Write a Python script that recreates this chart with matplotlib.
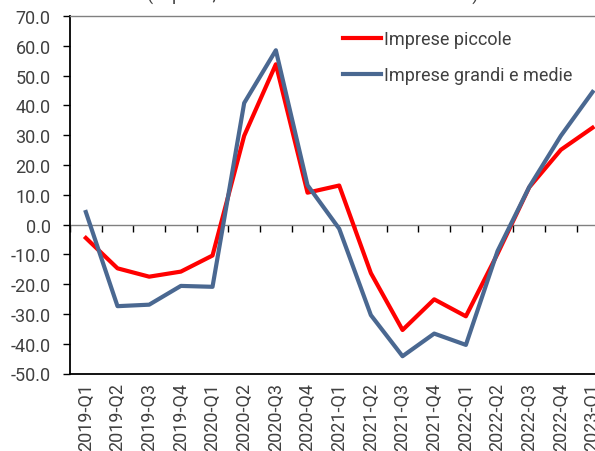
import numpy as np
import matplotlib.pyplot as plt

quarters = ["2019-Q1", "2019-Q2", "2019-Q3", "2019-Q4",
            "2020-Q1", "2020-Q2", "2020-Q3", "2020-Q4",
            "2021-Q1", "2021-Q2", "2021-Q3", "2021-Q4",
            "2022-Q1", "2022-Q2", "2022-Q3", "2022-Q4",
            "2023-Q1"]
piccole = [-4.5, -14.7, -17.5, -15.8, -10.4, 29.8, 53.8, 10.7,
           13.1, -16.3, -35.4, -25.1, -30.8, -9.8, 12.5, 25.1, 32.5]
grandi = [4.2, -27.4, -26.9, -20.6, -20.9, 40.8, 58.5, 13.2,
          -1.4, -30.4, -44.2, -36.6, -40.4, -8.9, 12.6, 29.8, 44.5]

plt.rcParams["font.family"] = ["Roboto", "DejaVu Sans"]
txt_color = "#404040"

fig = plt.figure(figsize=(5.95, 4.52), dpi=100)
ax = fig.add_axes([70 / 595, 1 - 374.5 / 452, 538.4 / 595, 357.5 / 452])

x = np.arange(len(quarters))
ax.plot(x, piccole, color="#ff0000", lw=3, label="Imprese piccole")
ax.plot(x, grandi, color="#4a6891", lw=3, label="Imprese grandi e medie")

ax.set_xlim(-0.5, len(quarters) - 0.5)
ax.set_ylim(-50, 70)
ax.set_yticks(np.arange(-50, 71, 10))
ax.yaxis.set_major_formatter(plt.FuncFormatter(lambda v, p: f"{v:.1f}"))
ax.tick_params(axis="y", length=5, width=1, color="black", pad=9,
               labelsize=13, labelcolor=txt_color)

ax.set_xticks(x)
ax.set_xticklabels(quarters, rotation=90, fontsize=13, color=txt_color)
ax.tick_params(axis="x", length=0, pad=6)

# zero line with ticks between categories
sec = ax.secondary_xaxis(50 / 120)
sec.set_xticks(np.arange(len(quarters) + 1) - 0.5)
sec.set_xticklabels([])
sec.tick_params(length=5, width=1, color="black", direction="out")
sec.spines["bottom"].set_color("#808080")
sec.spines["bottom"].set_linewidth(1)

ax.spines["left"].set_linewidth(1.3)
ax.spines["bottom"].set_linewidth(1.3)
ax.spines["top"].set_color("#808080")
ax.spines["top"].set_linewidth(1)
ax.spines["right"].set_visible(False)

ax.legend(loc="upper left", bbox_to_anchor=(343 / 595, 1 - 31 / 452),
          bbox_transform=fig.transFigure, frameon=False, fontsize=13,
          handlelength=2.1, handletextpad=0.15, labelspacing=1.0,
          borderaxespad=0, borderpad=0, labelcolor=txt_color)

fig.text(313 / 595, 1 - 1 / 452, "(in punti, saldo tra aumenti e diminuzioni)",
         ha="center", va="baseline", fontsize=13, color=txt_color)

plt.savefig("out.png", dpi=100)
